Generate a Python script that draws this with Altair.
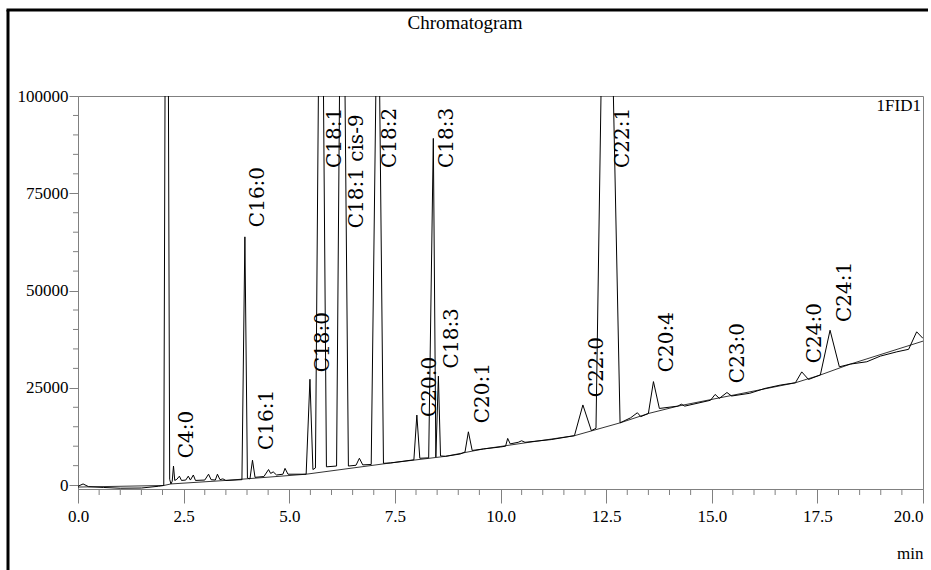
import altair as alt
import pandas as pd

# Detector trace (retention time in minutes, FID response)
time_min = [
    0.00, 0.12, 0.25, 0.60, 1.00, 1.50, 1.90, 2.03, 2.06, 2.14, 2.17, 2.20,
    2.23, 2.26, 2.29, 2.34, 2.40, 2.45, 2.55, 2.61, 2.66, 2.73, 2.78, 3.00,
    3.09, 3.15, 3.25, 3.30, 3.36, 3.43, 3.50, 3.88, 3.95, 4.01, 4.07, 4.13,
    4.19, 4.40, 4.51, 4.56, 4.62, 4.70, 4.85, 4.90, 4.97, 5.40, 5.49, 5.56,
    5.62, 5.69, 5.81, 5.88, 6.12, 6.19, 6.32, 6.40, 6.58, 6.66, 6.74, 6.94,
    7.05, 7.14, 7.23, 7.40, 7.95, 8.02, 8.09, 8.30, 8.41, 8.47, 8.53, 8.58,
    8.70, 9.05, 9.16, 9.24, 9.33, 9.60, 10.00, 10.12, 10.17, 10.23, 10.42,
    10.50, 10.58, 11.20, 11.75, 11.95, 12.15, 12.26, 12.38, 12.67, 12.83,
    13.08, 13.24, 13.32, 13.50, 13.62, 13.76, 14.20, 14.28, 14.36, 14.97,
    15.08, 15.18, 15.36, 15.47, 15.90, 16.26, 16.62, 16.98, 17.13, 17.29,
    17.57, 17.80, 18.02, 18.28, 18.67, 18.99, 19.38, 19.66, 19.85, 20.00,
]
signal = [
    -300, 300, -400, -600, -800, -750, -300, -100, 101000, 101000, 1500, 300,
    1000, 4900, 1200, 1500, 2300, 1200, 1300, 2300, 1300, 2600, 1200, 1300,
    2800, 1400, 1300, 2800, 1400, 1600, 1200, 1400, 63800, 1800, 1600, 6400,
    2000, 2200, 4000, 3000, 3400, 2600, 2800, 4300, 2800, 2800, 27200, 4000,
    4400, 101000, 101000, 4700, 4900, 101000, 101000, 4900, 5100, 6900, 5200, 5300,
    101000, 101000, 5600, 5700, 6500, 18000, 6900, 7000, 89100, 7200, 28000, 7500,
    7400, 8000, 8500, 13700, 8900, 9300, 9800, 10000, 12000, 10600, 11000,
    11400, 11000, 11700, 12700, 20600, 14000, 14600, 101000, 101000, 16000,
    17300, 18600, 17600, 18400, 26600, 19700, 20300, 20800, 20300, 21800,
    23300, 22300, 23800, 22900, 23600, 24850, 25700, 26300, 29100, 27150,
    28300, 39800, 30400, 31100, 31700, 33150, 34250, 34900, 39400, 37700,
]

# Integration baseline drawn under the peaks
base_time = [0.0, 2.03, 2.20, 3.50, 5.40, 7.40, 8.70, 9.60, 11.75, 12.83,
             13.50, 14.20, 16.98, 17.57, 18.28, 20.0]
base_signal = [-500, -100, 300, 1200, 2800, 5700, 7400, 9300, 12700, 16000,
               18400, 20300, 26300, 28300, 31100, 37000]

# Peak annotations (label, time of label, response where the label starts)
peak_names = ["C4:0", "C16:0", "C16:1", "C18:0", "C18:1", "C18:1 cis-9",
              "C18:2", "C18:3", "C20:0", "C18:3", "C20:1", "C22:0", "C22:1",
              "C20:4", "C23:0", "C24:0", "C24:1"]
peak_label_time = [2.58, 4.26, 4.47, 5.80, 6.08, 6.61, 7.39, 8.74, 8.33,
                   8.85, 9.59, 12.29, 12.90, 13.94, 15.63, 17.45, 18.16]
peak_label_level = [6900, 66300, 9000, 29000, 81500, 66000, 81500, 81500,
                    17500, 30000, 15900, 22600, 81500, 29000, 26200, 31300, 41900]

x_major = [0, 2.5, 5, 7.5, 10, 12.5, 15, 17.5, 20]
x_minor = [v / 2 for v in range(41) if v % 5 != 0]
y_major = [0, 25000, 50000, 75000, 100000]
y_minor = [v * 5000 for v in range(1, 20) if v % 5 != 0]

chart_title = "Chromatogram"
detector_name = "1FID1"
x_unit = "min"

W, H = 845, 393
SERIF = "Liberation Serif"
GRAY = "#808080"

trace = pd.DataFrame({"time": time_min, "signal": signal})
baseline = pd.DataFrame({"time": base_time, "signal": base_signal})
peaks = pd.DataFrame({"name": peak_names, "time": peak_label_time,
                      "signal": peak_label_level})

x_scale = alt.Scale(domain=[0, 20], nice=False, zero=False)
y_scale = alt.Scale(domain=[-1000, 100000], nice=False, zero=False)

x_axis = alt.Axis(values=x_major, format=".1f", grid=False, tickSize=14,
                  tickColor=GRAY, domainColor=GRAY, labelFont=SERIF,
                  labelFontSize=17, labelColor="black", labelPadding=5,
                  labelFlush=False,
                  labelAlign=alt.expr("datum.value >= 20 ? 'right' : 'center'"),
                  title=x_unit, titleFont=SERIF, titleFontSize=17,
                  titleFontWeight="normal", titleColor="black",
                  titleX=W, titleY=64, titleAlign="right",
                  titleBaseline="middle", titleAnchor="end")
y_axis = alt.Axis(values=y_major, format="d", grid=False, tickSize=9,
                  tickColor=GRAY, domainColor=GRAY, labelFont=SERIF,
                  labelFontSize=17, labelColor="black", labelPadding=1,
                  title=None)

X = alt.X("time:Q", scale=x_scale, axis=x_axis)
Y = alt.Y("signal:Q", scale=y_scale, axis=y_axis)

line = alt.Chart(trace).mark_line(color="black", strokeWidth=1, clip=True).encode(
    x=X, y=Y)

base_line = alt.Chart(baseline).mark_line(color="black", strokeWidth=0.8,
                                          clip=True).encode(x=X, y=Y)

labels = alt.Chart(peaks).mark_text(
    angle=270, align="left", baseline="middle", font="DejaVu Serif",
    fontSize=20, color="black",
).encode(x=X, y=Y, text="name:N")

# Minor ticks on both axes
x_minor_ticks = alt.Chart(pd.DataFrame({"time": x_minor})).mark_rule(
    color=GRAY, strokeWidth=1).encode(x=X, y=alt.value(H), y2=alt.value(H + 6))
y_minor_ticks = alt.Chart(pd.DataFrame({"signal": y_minor})).mark_rule(
    color=GRAY, strokeWidth=1).encode(y=Y, x=alt.value(-5), x2=alt.value(0))

one_row = pd.DataFrame({"title": [chart_title], "det": [detector_name]})

title_text = alt.Chart(one_row).mark_text(
    font=SERIF, fontSize=19, align="center", baseline="middle", color="black"
).encode(x=alt.value(387), y=alt.value(-73), text="title:N")

det_text = alt.Chart(one_row).mark_text(
    font=SERIF, fontSize=17, align="right", baseline="middle", color="black"
).encode(x=alt.value(W - 2), y=alt.value(10), text="det:N")

# Outer page frame (left and top edges)
frame_left = alt.Chart(one_row).mark_rule(color="black", strokeWidth=3).encode(
    x=alt.value(-70), y=alt.value(-86), y2=alt.value(480))
frame_top = alt.Chart(one_row).mark_rule(color="black", strokeWidth=3).encode(
    x=alt.value(-71.5), x2=alt.value(850), y=alt.value(-86))

chart = alt.layer(
    line, base_line, labels, x_minor_ticks, y_minor_ticks,
    title_text, det_text, frame_left, frame_top,
).properties(
    width=W, height=H,
    padding={"left": 78, "top": 96, "right": 8, "bottom": 81},
    autosize=alt.AutoSizeParams(type="none"),
    background="white",
).configure_view(stroke=GRAY, strokeWidth=1)

chart.save("out.html", embed_options={"renderer": "svg", "actions": False})
